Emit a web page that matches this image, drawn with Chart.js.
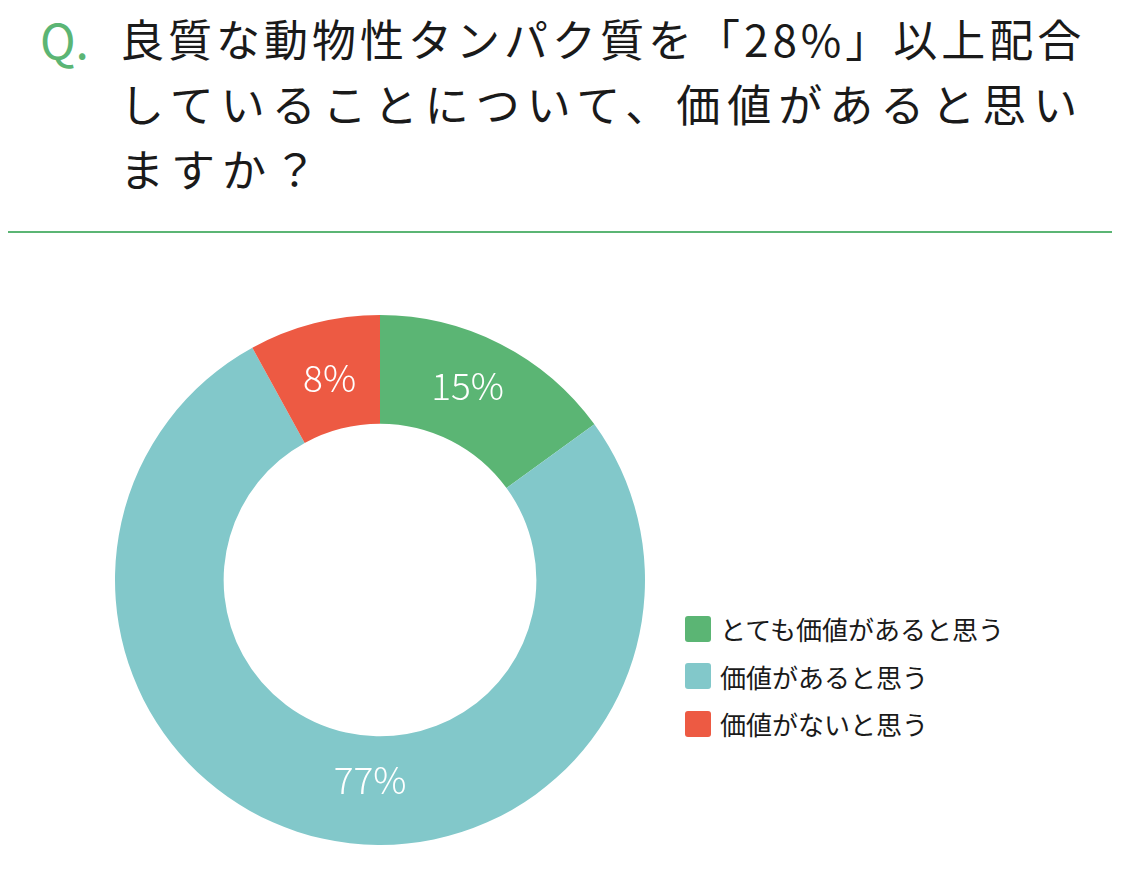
<!DOCTYPE html>
<html>
<head>
<meta charset="utf-8">
<script src="https://cdn.jsdelivr.net/npm/chart.js@4/dist/chart.umd.min.js"></script>
<style>
  body { margin: 0; background: #fff; width: 1126px; height: 870px; position: relative; overflow: hidden;
         font-family: "Noto Sans CJK JP", "Noto Sans", sans-serif; }
  #q { position: absolute; left: 40px; top: 6px; color: #5bb574; font-size: 48px; font-weight: 400; line-height: 65px; }
  #title { position: absolute; left: 120px; top: 6px; font-size: 44px; line-height: 65px;
           color: #1a1a1a; font-weight: 400; white-space: nowrap; }
  #title span { display: block; }
  #rule { position: absolute; left: 8px; top: 231px; width: 1104px; height: 2px; background: #5bb574; }
  #wrap { position: absolute; left: 115px; top: 315px; width: 530px; height: 530px; }
  #legend { position: absolute; left: 685px; top: 605px; }
  .row { display: flex; align-items: center; height: 47.5px; font-size: 26px; color: #1a1a1a; }
  .sw { width: 26px; height: 26px; border-radius: 3px; margin-right: 9px; }
</style>
</head>
<body>
<div id="q">Q.</div>
<div id="title"><span style="letter-spacing:4px">良質な動物性タンパク質を「28%」以上配合</span><span style="letter-spacing:7px">していることについて、価値があると思い</span><span style="letter-spacing:7px">ますか？</span></div>
<div id="rule"></div>
<div id="wrap"><canvas id="myChart" width="530" height="530"></canvas></div>
<div id="legend"></div>
<script>
var labels = ["とても価値があると思う", "価値があると思う", "価値がないと思う"];
var values = [15, 77, 8];
var colors = ["#5bb574", "#82c8ca", "#ed5a43"];
// label nudge for the big slice (reference puts it left of centroid)
var labelShift = [[-8, -6], [36, -6], [2, 2]];

var legendDiv = document.getElementById('legend');
labels.forEach(function (l, i) {
    var row = document.createElement('div');
    row.className = 'row';
    row.innerHTML = '<div class="sw" style="background:' + colors[i] + '"></div>' + l;
    legendDiv.appendChild(row);
});

var pctLabels = {
    id: 'pctLabels',
    afterDatasetsDraw: function (chart) {
        var ctx = chart.ctx;
        var meta = chart.getDatasetMeta(0);
        ctx.save();
        ctx.fillStyle = '#fff';
        ctx.font = '300 37px "Noto Sans CJK JP", "Noto Sans", sans-serif';
        ctx.textAlign = 'center';
        ctx.textBaseline = 'middle';
        meta.data.forEach(function (arc, i) {
            var p = arc.tooltipPosition();
            ctx.fillText(values[i] + '%', p.x + labelShift[i][0], p.y + labelShift[i][1]);
        });
        ctx.restore();
    }
};

new Chart("myChart", {
    type: "doughnut",
    data: {
        labels: labels,
        datasets: [{
            data: values,
            backgroundColor: colors,
            borderWidth: 0
        }]
    },
    options: {
        responsive: false,
        animation: false,
        cutout: '59%',
        layout: { padding: 0 },
        plugins: {
            legend: { display: false },
            tooltip: { enabled: false }
        }
    },
    plugins: [pctLabels]
});
</script>
</body>
</html>
